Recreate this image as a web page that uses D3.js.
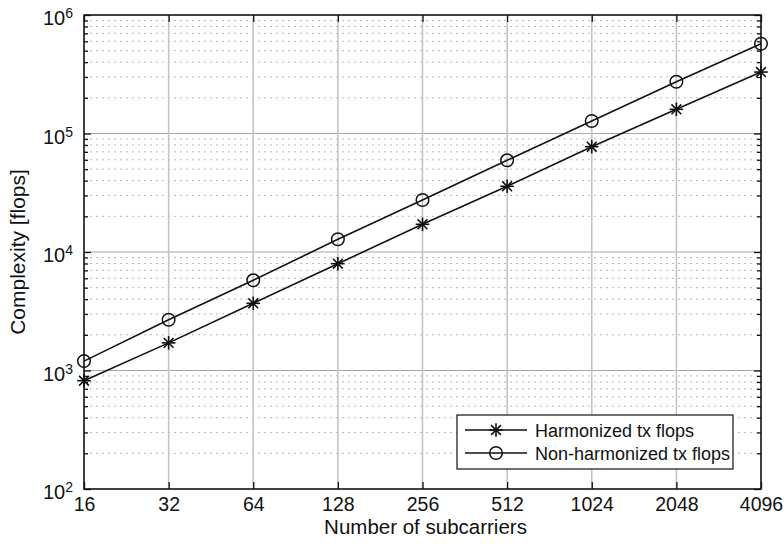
<!DOCTYPE html>
<html>
<head>
<meta charset="utf-8">
<script src="https://cdn.jsdelivr.net/npm/d3@7"></script>
<style>
  body { margin: 0; background: #fff; }
  svg { display: block; font-family: "Liberation Sans", Arial, Helvetica, sans-serif; }
</style>
</head>
<body>
<svg id="chart" width="784" height="546"></svg>
<script>
const subcarriers = [16, 32, 64, 128, 256, 512, 1024, 2048, 4096]
const harmonized = [820, 1710, 3690, 7970, 17130, 35840, 77400, 160000, 330000]
const nonHarmonized = [1200, 2680, 5770, 12800, 27470, 59400, 127500, 273500, 572000]
const yDecades = [1e2, 1e3, 1e4, 1e5, 1e6]
const seriesNames = ['Harmonized tx flops', 'Non-harmonized tx flops']
const xLabel = 'Number of subcarriers'
const yLabel = 'Complexity [flops]'

const margin = { left: 84, right: 23, top: 15, bottom: 57 }
const width = 784, height = 546
const svg = d3.select('#chart')

const x = d3.scaleLog().base(2)
  .domain([subcarriers[0], subcarriers[subcarriers.length - 1]])
  .range([margin.left, width - margin.right])
const y = d3.scaleLog()
  .domain([yDecades[0], yDecades[yDecades.length - 1]])
  .range([height - margin.bottom, margin.top])

const x0 = x.range()[0], x1 = x.range()[1]
const y0 = y.range()[0], y1 = y.range()[1]

// minor values 2..9 in each decade
const yMinor = []
yDecades.slice(0, -1).forEach(d => {
  for (let k = 2; k <= 9; k++) yMinor.push(d * k)
})

// grid
const grid = svg.append('g')
grid.selectAll('.minor').data(yMinor).enter().append('line')
  .attr('x1', x0).attr('x2', x1)
  .attr('y1', d => y(d)).attr('y2', d => y(d))
  .style('stroke', '#b8b8b8')
  .style('stroke-width', 1)
  .style('stroke-dasharray', '2,4')
grid.selectAll('.major-y').data(yDecades).enter().append('line')
  .attr('x1', x0).attr('x2', x1)
  .attr('y1', d => y(d)).attr('y2', d => y(d))
  .style('stroke', '#a8a8a8')
  .style('stroke-width', 1.2)
grid.selectAll('.major-x').data(subcarriers).enter().append('line')
  .attr('x1', d => x(d)).attr('x2', d => x(d))
  .attr('y1', y0).attr('y2', y1)
  .style('stroke', '#c4c4c4')
  .style('stroke-width', 1.6)

// axes (ticks inside, MATLAB box style)
const xAxis = d3.axisBottom(x).tickValues(subcarriers).tickSize(-7).tickPadding(8).tickFormat(d3.format('d'))
const gx = svg.append('g').attr('transform', `translate(0,${y0})`).call(xAxis)
gx.select('.domain').remove()
gx.selectAll('text').style('font-size', '19.5px').style('fill', '#111')
gx.selectAll('line').style('stroke', '#111').style('stroke-width', 1.3)

const xTop = d3.axisTop(x).tickValues(subcarriers).tickSize(-7).tickFormat('')
const gxt = svg.append('g').attr('transform', `translate(0,${y1})`).call(xTop)
gxt.select('.domain').remove()
gxt.selectAll('line').style('stroke', '#111').style('stroke-width', 1.3)

function yTicks(side, values, size) {
  const axis = (side === 'left' ? d3.axisLeft(y) : d3.axisRight(y))
    .tickValues(values).tickSize(-size).tickFormat('')
  const g = svg.append('g')
    .attr('transform', `translate(${side === 'left' ? x0 : x1},0)`)
    .call(axis)
  g.select('.domain').remove()
  g.selectAll('line').style('stroke', '#111').style('stroke-width', 1.3)
  return g
}
yTicks('left', yDecades, 7)
yTicks('left', yMinor, 4)
yTicks('right', yDecades, 7)
yTicks('right', yMinor, 4)

// y tick labels as 10^n
const yLab = svg.append('g').selectAll('text').data(yDecades).enter().append('text')
  .attr('x', x0 - 11)
  .attr('y', d => y(d) + 10)
  .attr('text-anchor', 'end')
  .style('fill', '#111')
yLab.append('tspan').text('10').style('font-size', '20px')
yLab.append('tspan').text(d => Math.round(Math.log10(d)))
  .attr('dy', -7).style('font-size', '14px')

// box
svg.append('rect')
  .attr('x', x0).attr('y', y1)
  .attr('width', x1 - x0).attr('height', y0 - y1)
  .style('fill', 'none').style('stroke', '#111').style('stroke-width', 1.5)

// series
const series = [
  { name: seriesNames[0], values: harmonized, marker: 'star' },
  { name: seriesNames[1], values: nonHarmonized, marker: 'circle' }
]
const line = d3.line().x(d => x(d[0])).y(d => y(d[1]))

function drawMarker(g, type) {
  if (type === 'circle') {
    g.append('circle').attr('r', 6.3)
      .style('fill', 'none').style('stroke', '#111').style('stroke-width', 1.5)
  } else {
    const r = 6.8, rd = r * 0.72
    const segs = [[-r, 0, r, 0], [0, -r, 0, r], [-rd, -rd, rd, rd], [-rd, rd, rd, -rd]]
    segs.forEach(s => {
      g.append('line')
        .attr('x1', s[0]).attr('y1', s[1]).attr('x2', s[2]).attr('y2', s[3])
        .style('stroke', '#111').style('stroke-width', 1.6)
    })
  }
}

const plot = svg.append('g')
series.forEach(s => {
  const pts = subcarriers.map((c, i) => [c, s.values[i]])
  plot.append('path').datum(pts).attr('d', line)
    .style('fill', 'none').style('stroke', '#111').style('stroke-width', 1.6)
  pts.forEach(p => {
    const g = plot.append('g').attr('transform', `translate(${x(p[0])},${y(p[1])})`)
    drawMarker(g, s.marker)
  })
})

// legend
const legend = svg.append('g').attr('transform', 'translate(457,415)')
legend.append('rect').attr('width', 276).attr('height', 54)
  .style('fill', '#fff').style('stroke', '#111').style('stroke-width', 1.2)
series.forEach((s, i) => {
  const row = legend.append('g').attr('transform', `translate(0,${15 + i * 23})`)
  row.append('line').attr('x1', 8).attr('x2', 70)
    .style('stroke', '#111').style('stroke-width', 1.6)
  drawMarker(row.append('g').attr('transform', 'translate(39,0)'), s.marker)
  row.append('text').attr('x', 78).attr('y', 6.5)
    .text(s.name).style('font-size', '18px').style('fill', '#111')
})

// axis labels
svg.append('text')
  .attr('x', (x0 + x1) / 2 + 3).attr('y', 534)
  .attr('text-anchor', 'middle')
  .style('font-size', '20.5px').style('fill', '#111')
  .text(xLabel)
svg.append('text')
  .attr('transform', `translate(25,${(y0 + y1) / 2}) rotate(-90)`)
  .attr('text-anchor', 'middle')
  .style('font-size', '21px').style('fill', '#111')
  .text(yLabel)
</script>
</body>
</html>
